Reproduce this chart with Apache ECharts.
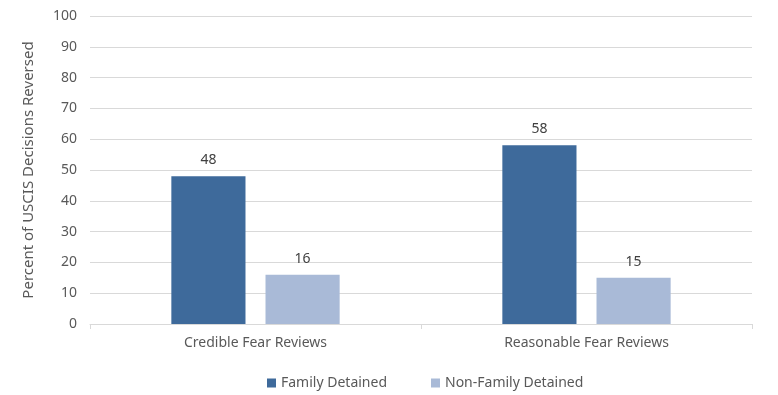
<!DOCTYPE html>
<html><head><meta charset="utf-8">
<script src="https://cdn.jsdelivr.net/npm/echarts@6/dist/echarts.min.js"></script>
<style>html,body{margin:0;padding:0;background:#fff}#c{width:778px;height:395px}</style>
</head><body><div id="c"></div>
<script>
const categories = ["Credible Fear Reviews", "Reasonable Fear Reviews"];
const familyDetained = [48, 58];
const nonFamilyDetained = [16, 15];
const seriesNames = ["Family Detained", "Non-Family Detained"];
const yTicks = {min: 0, max: 100, interval: 10};

const font = "'Noto Sans', sans-serif";
const chart = echarts.init(document.getElementById('c'), null, {renderer: 'canvas'});
const labelCfg = {show: true, position: 'top', distance: 9, color: '#404040', fontSize: 14, fontFamily: font};
chart.setOption({
  animation: false,
  textStyle: {fontFamily: font},
  grid: {left: 90, right: 26, top: 16, bottom: 71, containLabel: false},
  legend: {
    top: 371, left: 262, itemWidth: 9, itemHeight: 9, itemGap: 44,
    icon: 'rect',
    textStyle: {color: '#595959', fontSize: 14, fontFamily: font},
    data: seriesNames
  },
  xAxis: {
    type: 'category', data: categories,
    axisLine: {lineStyle: {color: '#d9d9d9'}},
    axisTick: {show: true, length: 5, lineStyle: {color: '#d9d9d9'}},
    axisLabel: {color: '#595959', fontSize: 14, fontFamily: font, margin: 12}
  },
  yAxis: {
    type: 'value', min: yTicks.min, max: yTicks.max, interval: yTicks.interval,
    name: 'Percent of USCIS Decisions Reversed', nameLocation: 'middle', nameGap: 54,
    nameTextStyle: {color: '#595959', fontSize: 15, fontFamily: font},
    axisLine: {show: false}, axisTick: {show: false},
    axisLabel: {color: '#595959', fontSize: 14, fontFamily: font, margin: 13},
    splitLine: {lineStyle: {color: '#d9d9d9'}}
  },
  series: [
    {name: seriesNames[0], type: 'bar', data: familyDetained, barWidth: '22.4%', barGap: '27%',
     itemStyle: {color: '#3E6A9B'}, label: labelCfg},
    {name: seriesNames[1], type: 'bar', data: nonFamilyDetained, barWidth: '22.4%',
     itemStyle: {color: '#A9BAD7'}, label: labelCfg}
  ]
});
</script></body></html>
